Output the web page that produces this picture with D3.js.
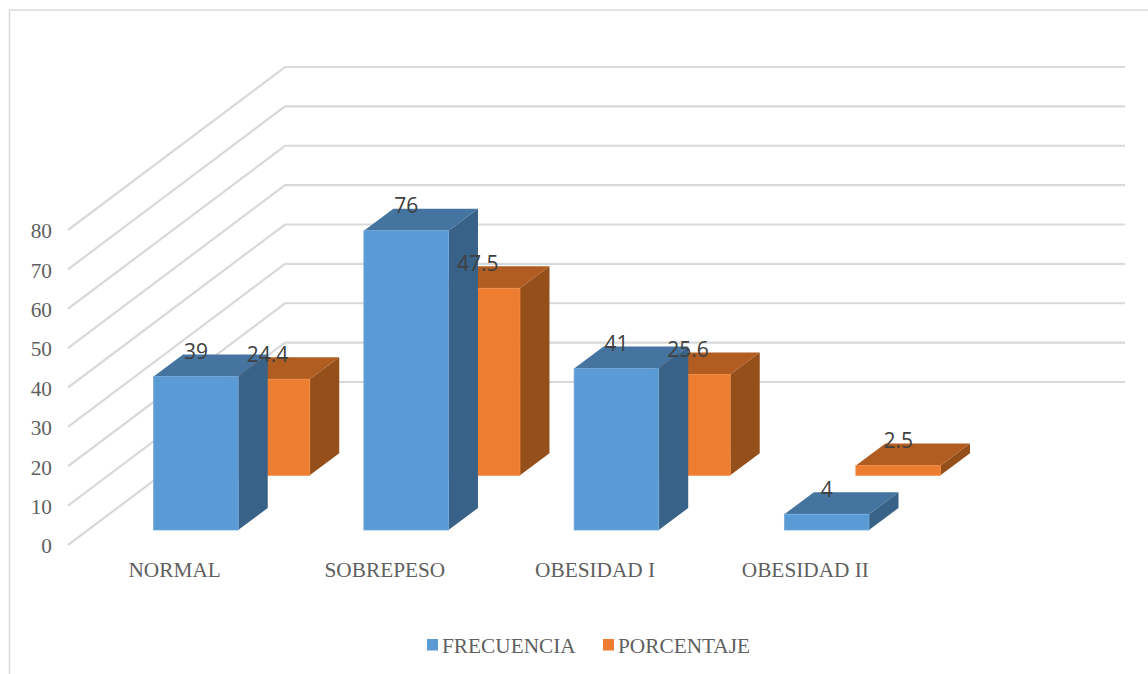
<!DOCTYPE html>
<html lang="es">
<head>
<meta charset="utf-8">
<title>Frecuencia y porcentaje por categoría</title>
<script src="https://cdn.jsdelivr.net/npm/d3@7"></script>
<style>
  html, body { margin: 0; padding: 0; background: #fff; }
  svg { display: block; }
  .serif { font-family: "Liberation Serif", "Times New Roman", serif; font-size: 21.3px; fill: #5f5f5f; }
  .value { font-family: "Open Sans", "Noto Sans", sans-serif; font-size: 21px; fill: #404040; text-anchor: middle; }
</style>
</head>
<body>
<script>
// Chart data
const categories = ["NORMAL", "SOBREPESO", "OBESIDAD I", "OBESIDAD II"];
const frecuencia = [39, 76, 41, 4];
const porcentaje = [24.4, 47.5, 25.6, 2.5];
const frecuenciaLabels = ["39", "76", "41", "4"];
const porcentajeLabels = ["24.4", "47.5", "25.6", "2.5"];
const axisTicks = [0, 10, 20, 30, 40, 50, 60, 70, 80];
const seriesNames = ["FRECUENCIA", "PORCENTAJE"];

const width = 1148, height = 674;

// Pseudo-3D projection: the floor recedes up and to the right.
const floorLeft = 68, floorFrontY = 545, wallDx = 217, wallDy = 163, wallRight = 1125;
const barWidth = 84.6, barDx = 29.5, barDy = 22;

const y = d3.scaleLinear().domain([0, 80]).range([floorFrontY, floorFrontY - 315]);
const h = v => y(0) - y(v);
const x = d3.scaleBand().domain(categories).range([70, 911]);

const series = [
  { name: seriesNames[1], values: porcentaje, labels: porcentajeLabels, shift: 50,    base: 475.3,
    front: "#ed7d31", top: "#b15d21", side: "#954f1b", edge: "#f08a44" },
  { name: seriesNames[0], values: frecuencia, labels: frecuenciaLabels, shift: -21.5, base: 530,
    front: "#5b9bd5", top: "#44749f", side: "#386287", edge: "#70a8dc" }
];

const svg = d3.select("body").append("svg")
  .attr("width", width).attr("height", height)
  .attr("viewBox", [0, 0, width, height]);

// Chart frame: top and left edges run off the page
svg.append("path")
  .attr("d", `M9.5,${height} V10 H${width}`)
  .attr("fill", "none").attr("stroke", "#d9d9d9").attr("stroke-width", 1.5);

// Gridlines: along the side wall, then across the back wall
svg.append("g").selectAll("path").data(axisTicks).join("path")
  .attr("d", t => `M${floorLeft},${y(t)} L${floorLeft + wallDx},${y(t) - wallDy} H${wallRight}`)
  .attr("fill", "none").attr("stroke", "#d9d9d9").attr("stroke-width", 2.2);

// Value axis
const yAxis = svg.append("g").attr("transform", "translate(57,1)")
  .call(d3.axisLeft(y).tickValues(axisTicks).tickSize(0).tickPadding(5));
yAxis.select(".domain").remove();
yAxis.selectAll("text").attr("class", "serif");

// Category axis, nudged left to centre under each group's labels
const xAxis = svg.append("g").attr("transform", "translate(-0.5,554)")
  .call(d3.axisBottom(x).tickSize(0).tickPadding(8));
xAxis.select(".domain").remove();
xAxis.selectAll("text").attr("class", "serif");

// Extruded bars, rear series first so the front series overlaps it
const poly = pts => "M" + pts.map(p => p.join(",")).join("L") + "Z";

series.forEach(s => {
  const g = svg.append("g").selectAll("g").data(categories).join("g");
  const x0 = c => x(c) + x.bandwidth() / 2 + s.shift;
  const top = (c, i) => s.base - h(s.values[i]);

  g.append("path").attr("fill", s.side)
    .attr("d", (c, i) => poly([
      [x0(c) + barWidth, s.base], [x0(c) + barWidth, top(c, i)],
      [x0(c) + barWidth + barDx, top(c, i) - barDy], [x0(c) + barWidth + barDx, s.base - barDy]
    ]));
  g.append("path").attr("fill", s.top)
    .attr("d", (c, i) => poly([
      [x0(c), top(c, i)], [x0(c) + barWidth, top(c, i)],
      [x0(c) + barWidth + barDx, top(c, i) - barDy], [x0(c) + barDx, top(c, i) - barDy]
    ]));
  g.append("rect").attr("fill", s.front)
    .attr("stroke", s.edge).attr("stroke-width", 0.8)
    .attr("x", x0).attr("y", top)
    .attr("width", barWidth).attr("height", (c, i) => h(s.values[i]));

  s.x0 = x0; s.topY = top;
});

// Value labels sit above every bar
series.forEach(s => {
  svg.append("g").selectAll("text").data(categories).join("text")
    .attr("class", "value")
    .attr("x", c => s.x0(c) + barWidth / 2)
    .attr("y", (c, i) => s.topY(c, i) - 17.5)
    .text((c, i) => s.labels[i]);
});

// Legend
const legendItems = [
  { name: seriesNames[0], color: "#5b9bd5", x: 427 },
  { name: seriesNames[1], color: "#ed7d31", x: 603 }
];
const legend = svg.append("g").selectAll("g").data(legendItems).join("g")
  .attr("transform", d => `translate(${d.x},639)`);
legend.append("rect").attr("width", 11).attr("height", 11.5).attr("fill", d => d.color);
legend.append("text").attr("class", "serif").attr("x", 15).attr("y", 14).text(d => d.name);
</script>
</body>
</html>
